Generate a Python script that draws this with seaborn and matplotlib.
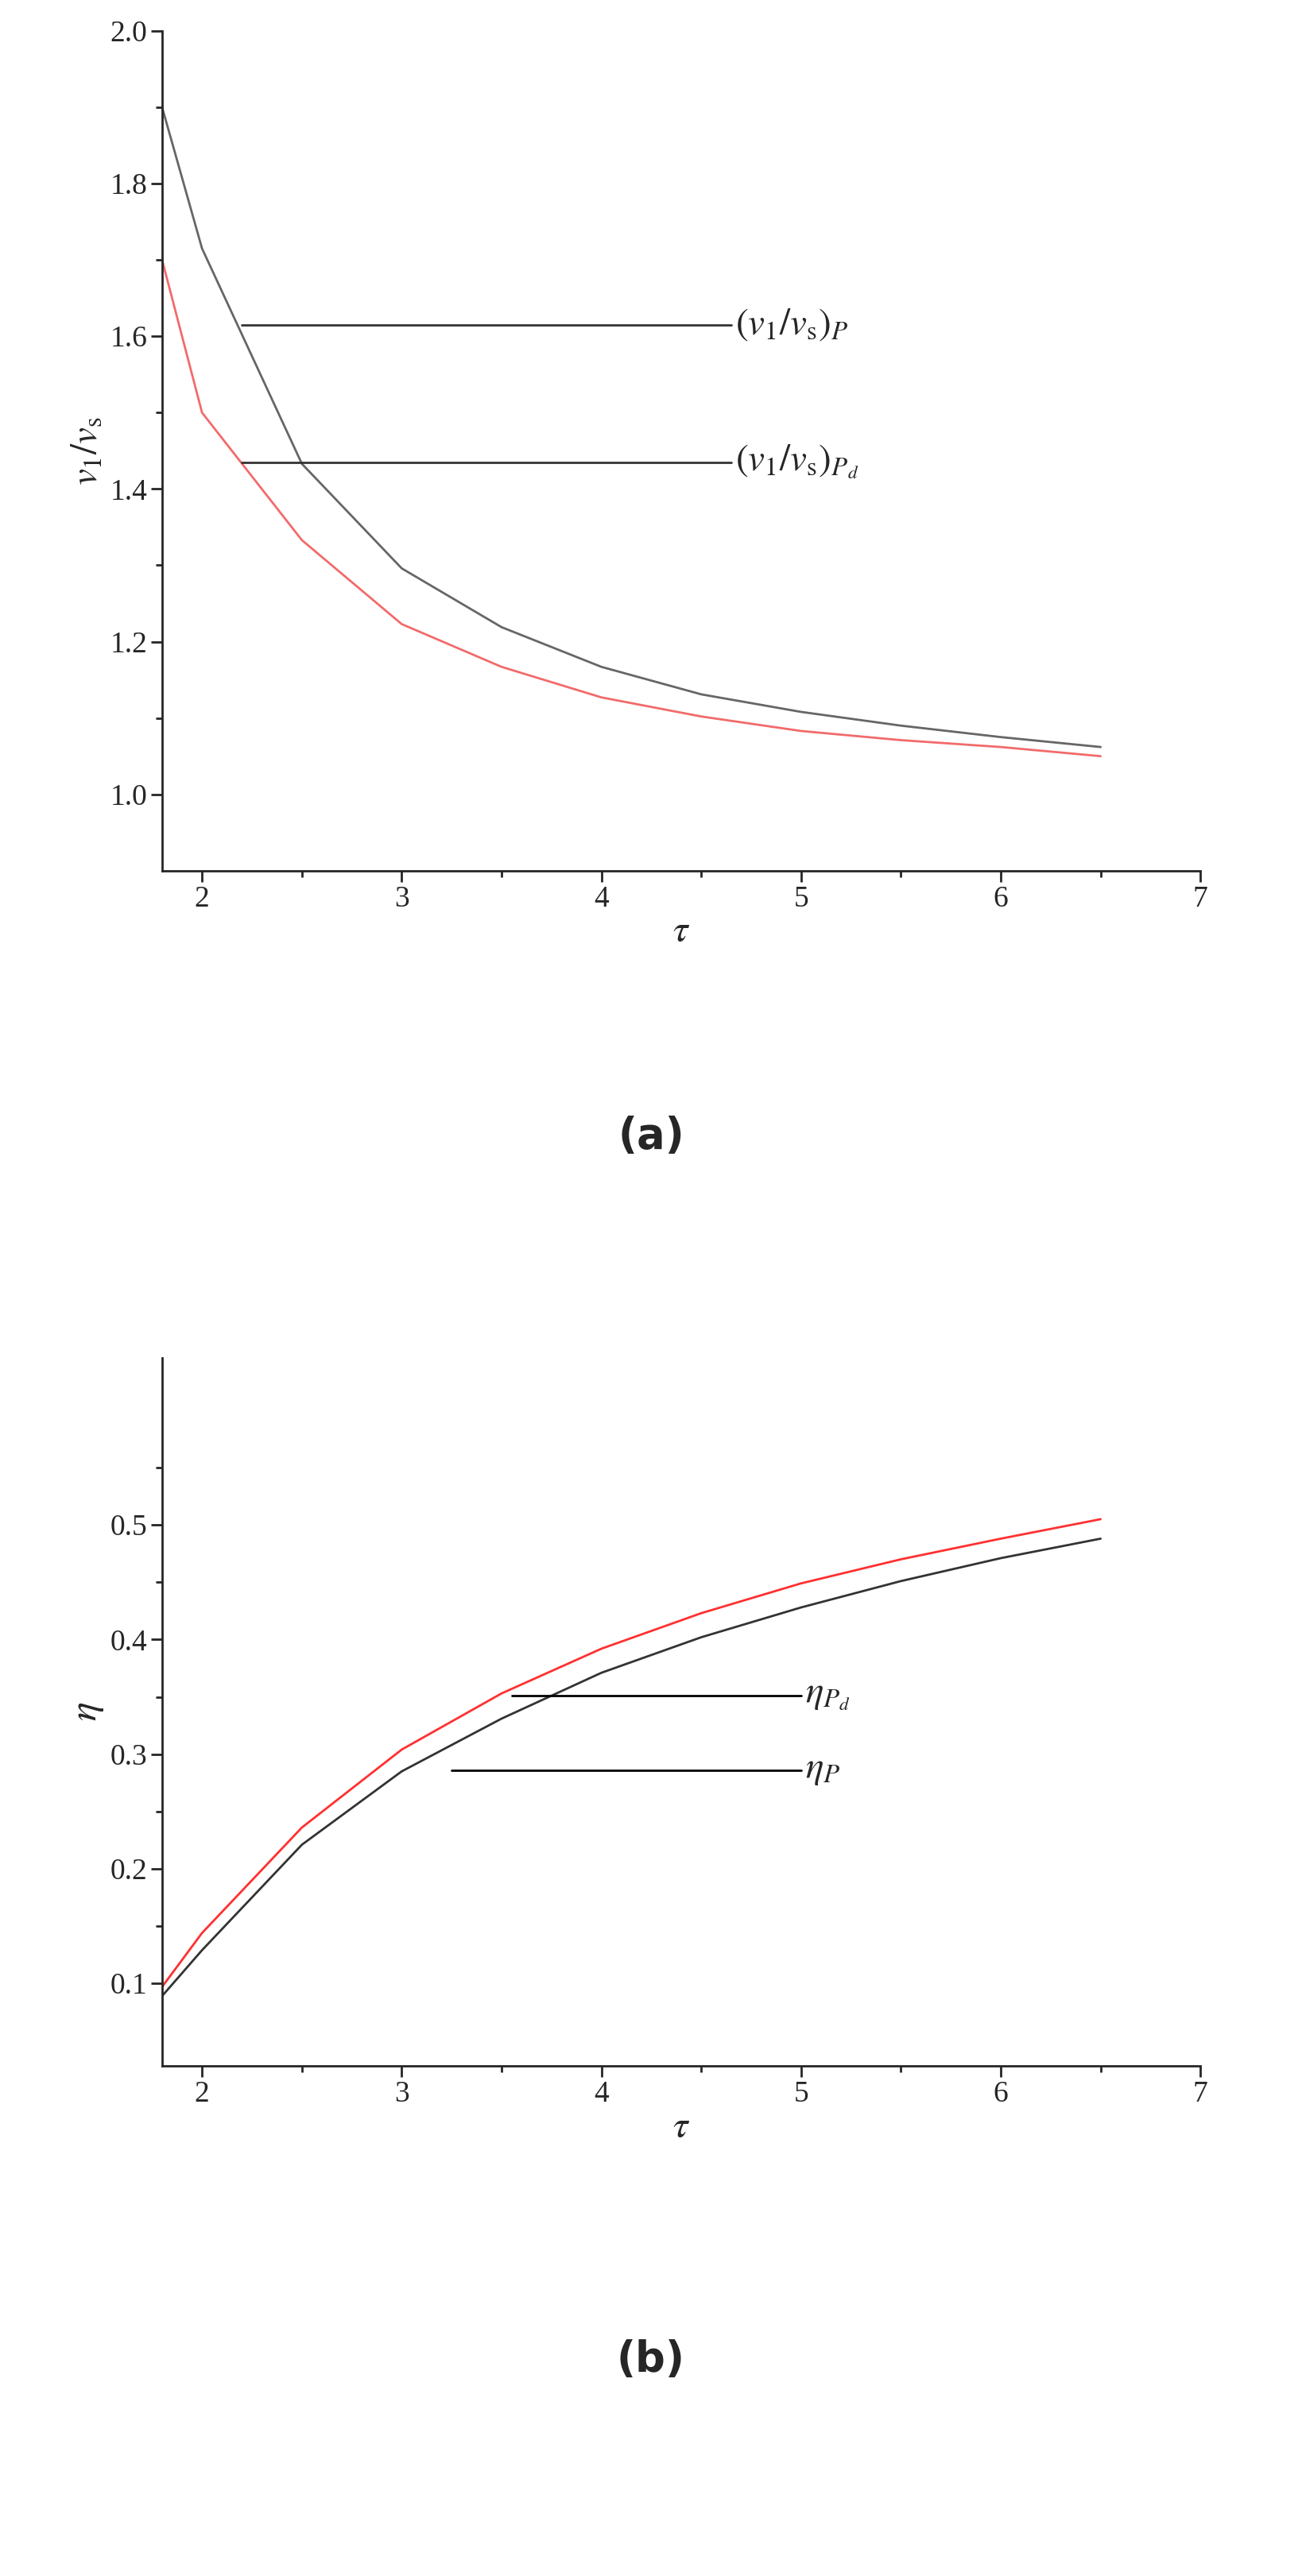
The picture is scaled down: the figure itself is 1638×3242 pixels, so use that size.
import matplotlib
matplotlib.use("Agg")
import matplotlib.pyplot as plt
import seaborn as sns
import pandas as pd

tau = [1.8, 2.0, 2.5, 3.0, 3.5, 4.0, 4.5, 5.0, 5.5, 6.0, 6.5]
ratio_p = [1.90, 1.715, 1.433, 1.296, 1.219, 1.167, 1.131, 1.108, 1.090, 1.075, 1.062]
ratio_pd = [1.70, 1.50, 1.333, 1.223, 1.167, 1.127, 1.102, 1.083, 1.071, 1.062, 1.050]
eta_p = [0.089, 0.129, 0.221, 0.285, 0.331, 0.371, 0.402, 0.428, 0.451, 0.471, 0.488]
eta_pd = [0.097, 0.144, 0.236, 0.304, 0.353, 0.392, 0.423, 0.449, 0.470, 0.488, 0.505]

sns.set_style("ticks")
plt.rcParams["font.family"] = ["Liberation Serif", "DejaVu Serif"]
plt.rcParams["mathtext.fontset"] = "stix"

fig = plt.figure(figsize=(16.38, 32.42), dpi=100)
ax1 = fig.add_axes([0.1245, 0.662, 0.7975, 0.326])
ax2 = fig.add_axes([0.1245, 0.198, 0.7975, 0.275])

dfa = pd.DataFrame({"tau": tau, "p": ratio_p, "pd": ratio_pd})
dfb = pd.DataFrame({"tau": tau, "p": eta_p, "pd": eta_pd})

sns.lineplot(data=dfa, x="tau", y="p", ax=ax1, color="#666666", lw=2)
sns.lineplot(data=dfa, x="tau", y="pd", ax=ax1, color="#f26b6b", lw=2)
sns.lineplot(data=dfb, x="tau", y="p", ax=ax2, color="#333333", lw=2)
sns.lineplot(data=dfb, x="tau", y="pd", ax=ax2, color="#ff3030", lw=2)

fs = 27
for ax in (ax1, ax2):
    sns.despine(ax=ax)
    ax.set_xlim(1.8, 7)
    ax.set_xticks([2, 3, 4, 5, 6, 7])
    ax.set_xticks([2.5, 3.5, 4.5, 5.5, 6.5], minor=True)
    ax.tick_params(which="major", direction="out", length=10, width=2, labelsize=fs)
    ax.tick_params(which="minor", direction="out", length=6, width=2)
    for s in ax.spines.values():
        s.set_linewidth(2)
    ax.set_xlabel(r"$\tau$", fontsize=34, labelpad=2)

ax1.set_ylim(0.9, 2.0)
ax1.set_yticks([1.0, 1.2, 1.4, 1.6, 1.8, 2.0])
ax1.set_yticks([1.1, 1.3, 1.5, 1.7, 1.9], minor=True)
ax1.set_yticklabels(["1.0", "1.2", "1.4", "1.6", "1.8", "2.0"])
ax1.set_ylabel(r"$v_1/v_{\rm s}$", fontsize=34)

ax2.set_ylim(0.028, 0.646)
ax2.set_yticks([0.1, 0.2, 0.3, 0.4, 0.5])
ax2.set_yticks([0.15, 0.25, 0.35, 0.45, 0.55], minor=True)
ax2.set_ylabel(r"$\eta$", fontsize=36)

ax1.plot([2.2, 4.65], [1.615, 1.615], color="#333333", lw=2)
ax1.text(4.67, 1.615, r"$(v_1/v_{\rm s})_P$", fontsize=34, va="center")
ax1.plot([2.2, 4.65], [1.435, 1.435], color="#333333", lw=2)
ax1.text(4.67, 1.435, r"$(v_1/v_{\rm s})_{P_d}$", fontsize=34, va="center")

ax2.plot([3.55, 5.0], [0.351, 0.351], color="black", lw=2)
ax2.text(5.02, 0.351, r"$\eta_{P_d}$", fontsize=34, va="center")
ax2.plot([3.25, 5.0], [0.286, 0.286], color="black", lw=2)
ax2.text(5.02, 0.286, r"$\eta_P$", fontsize=34, va="center")

fig.text(0.5, 0.559, "(a)", fontsize=38, weight="bold", ha="center", va="center",
         family=["DejaVu Sans"])
fig.text(0.5, 0.084, "(b)", fontsize=38, weight="bold", ha="center", va="center",
         family=["DejaVu Sans"])

fig.savefig("out.png", dpi=100)
